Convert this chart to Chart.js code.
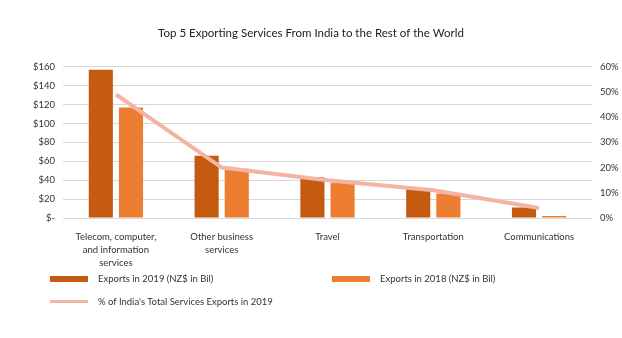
<!DOCTYPE html>
<html><head><meta charset="utf-8">
<script src="https://cdn.jsdelivr.net/npm/chart.js@4/dist/chart.umd.min.js"></script>
<style>
html,body{margin:0;padding:0;background:#fff;width:622px;height:338px;overflow:hidden;font-family:Lato,"Open Sans",sans-serif;}
#wrap{position:absolute;left:0;top:0;width:622px;height:275px;}
.leg{position:absolute;font-size:9.5px;color:#333;display:flex;align-items:center;white-space:nowrap;}
.sw{display:inline-block;width:38px;margin-right:10px;}
</style></head>
<body>
<div id="wrap"><canvas id="c"></canvas></div>
<div class="leg" style="left:50px;top:273px;"><span class="sw" style="height:6px;background:#c55a11"></span>Exports in 2019 (NZ$ in Bil)</div>
<div class="leg" style="left:332px;top:273px;"><span class="sw" style="height:6px;background:#ed7d31"></span>Exports in 2018 (NZ$ in Bil)</div>
<div class="leg" style="left:50px;top:296px;"><span class="sw" style="height:3px;background:#f4b4a4"></span>% of India's Total Services Exports in 2019</div>
<script>
const categories = [["Telecom, computer,","and information","services"],["Other business","services"],"Travel","Transportation","Communications"];
const exports2019 = [157, 66, 43, 31, 11];
const exports2018 = [117, 52, 37, 26, 2];
const sharePct2019 = [49, 20, 15, 11, 4];
const leftTicks = [0,20,40,60,80,100,120,140,160];
const rightTicks = [0,10,20,30,40,50,60];

Chart.defaults.font.family = "Lato, 'Open Sans', sans-serif";
Chart.defaults.color = '#333';

new Chart(document.getElementById('c'), {
  data: {
    labels: categories,
    datasets: [
      {type:'line', label:"% of India's Total Services Exports in 2019", data: sharePct2019, yAxisID:'y1',
       borderColor:'#f4b4a4', borderWidth:4, pointRadius:0, tension:0, order:0},
      {type:'bar', label:'Exports in 2019 (NZ$ in Bil)', data: exports2019, yAxisID:'y',
       backgroundColor:'#c55a11', categoryPercentage:0.57, barPercentage:0.8, order:1},
      {type:'bar', label:'Exports in 2018 (NZ$ in Bil)', data: exports2018, yAxisID:'y',
       backgroundColor:'#ed7d31', categoryPercentage:0.57, barPercentage:0.8, order:1}
    ]
  },
  options: {
    responsive:true, maintainAspectRatio:false, animation:false,
    layout:{padding:{left:0,right:0,top:0,bottom:0}},
    plugins:{
      legend:{display:false},
      tooltip:{enabled:false},
      title:{display:true, text:'Top 5 Exporting Services From India to the Rest of the World',
        font:{size:11.5, weight:'normal'}, color:'#222', padding:{top:26,bottom:27}}
    },
    scales:{
      x:{grid:{display:false}, border:{display:false},
         ticks:{font:{size:9.5, lineHeight:1.4}, color:'#333', maxRotation:0, autoSkip:false, padding:4},
         afterFit:(s)=>{s.height=57;}},
      y:{position:'left', min:0, max:160, 
         afterBuildTicks:(s)=>{s.ticks = leftTicks.map(v=>({value:v}));},
         ticks:{font:{size:9.5}, color:'#333', padding:8,
           callback:(v)=> v===0 ? '$-' : '$'+v},
         grid:{color:'#d9d9d9', drawTicks:false}, border:{display:false},
         afterFit:(s)=>{s.width=63;}},
      y1:{position:'right', min:0, max:60,
         afterBuildTicks:(s)=>{s.ticks = rightTicks.map(v=>({value:v}));},
         ticks:{font:{size:9.5}, color:'#333', padding:8, callback:(v)=>v+'%'},
         grid:{display:false, drawTicks:false}, border:{display:false},
         afterFit:(s)=>{s.width=30;}}
    }
  }
});
</script>
</body></html>
